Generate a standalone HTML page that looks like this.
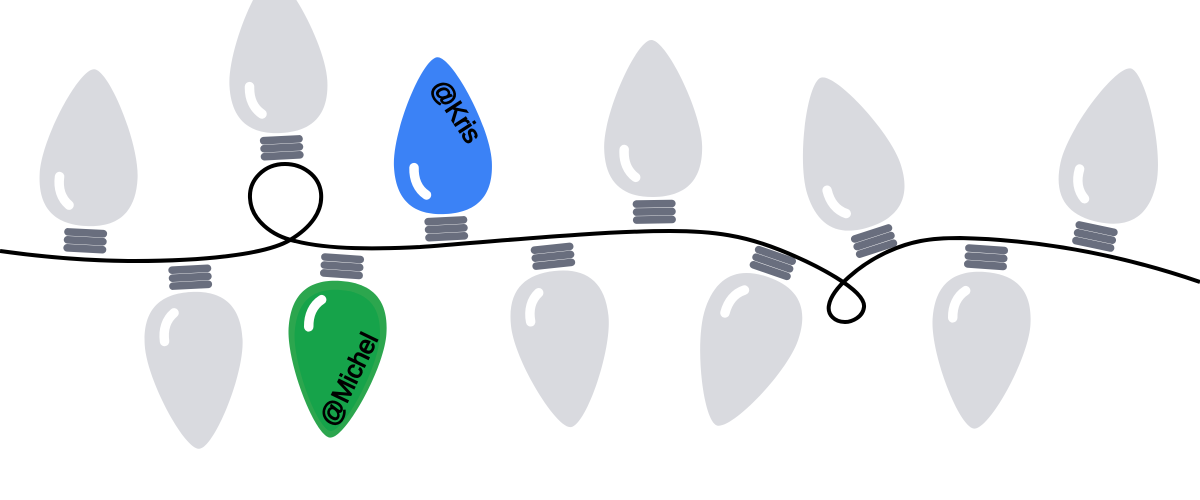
<!DOCTYPE html>
<html><head><meta charset="utf-8"><style>html,body{margin:0;padding:0;background:#fff}svg{display:block}text{font-family:"Liberation Sans",sans-serif;font-weight:400;fill:#000;stroke:#000;stroke-width:1}</style></head><body>
<svg width="1200" height="500" viewBox="0 0 1200 500" xmlns="http://www.w3.org/2000/svg">
<defs>
<path id="g" d="M0,-157 C15,-157 49,-85 49,-50 C49,-15 31,0 0,0 C-31,0 -49,-15 -49,-50 C-49,-85 -15,-157 0,-157Z"/>
<path id="h" d="M-29,-48 C-30,-36 -26,-26 -18,-20" fill="none" stroke="#fff" stroke-width="9.5" stroke-linecap="round"/>
<g id="s" fill="#696e7e"><rect x="-21.5" y="3" width="43" height="7.6" rx="3.7"/><rect x="-21.5" y="11" width="43" height="7.6" rx="3.7"/><rect x="-21.5" y="19" width="43" height="7.6" rx="3.7"/></g>
</defs>
<g fill="#d9dadf">
<g transform="translate(86,226) rotate(3)"><use href="#g"/><use href="#h"/><use href="#s"/></g>
<g transform="translate(281,133) rotate(-3)"><use href="#g"/><use href="#h"/><use href="#s"/></g>
<g transform="translate(445.5,214) rotate(-3)"><use href="#g" fill="#3b82f6"/><use href="#h"/><use href="#s"/></g>
<g transform="translate(654,197) rotate(-1)"><use href="#g"/><use href="#h"/><use href="#s"/></g>
<g transform="translate(869.5,227) rotate(-18)"><use href="#g"/><use href="#h"/><use href="#s"/></g>
<g transform="translate(1098,222) rotate(12)"><use href="#g"/><use href="#h"/><use href="#s"/></g>
<g transform="translate(191,292) rotate(-3) scale(1,-1)"><use href="#g"/><use href="#h"/><use href="#s"/></g>
<g transform="translate(341,281) rotate(4) scale(1,-1)"><use href="#g" fill="#2ca64e"/><g transform="translate(0,-9) scale(.87,.9)"><use href="#g" fill="#16a34a"/></g><use href="#h"/><use href="#s"/></g>
<g transform="translate(554.5,271) rotate(-6) scale(1,-1)"><use href="#g"/><use href="#h"/><use href="#s"/></g>
<g transform="translate(768,277) rotate(19) scale(1,-1)"><use href="#g"/><use href="#h"/><use href="#s"/></g>
<g transform="translate(985,272) rotate(4) scale(1,-1)"><use href="#g"/><use href="#h"/><use href="#s"/></g>
</g>
<path d="M0,251 C50,258 95,261 135,261 C200,261 265,255 290,240 C310,228 323,212 321,193 C319,175 302,164 285,164 C264,164 249,180 250,198 C251,220 272,236 295,241 C330,250 380,249 420,247 C500,241 600,231 670,231 C715,231 745,236 780,250 C815,264 866,290 864,307 C863,317 852,322 845,322 C835,322 827,315 829,305 C832,288 860,265 885,253 C910,241 930,238 960,238 C1050,240 1130,258 1200,282" fill="none" stroke="#000" stroke-width="4"/>
<text font-size="26" transform="translate(430,87) rotate(57)" letter-spacing="-.5">@Kris</text>
<text font-size="26" transform="translate(335,428) rotate(-64)" letter-spacing="-.3">@Michel</text>
</svg>
</body></html>
